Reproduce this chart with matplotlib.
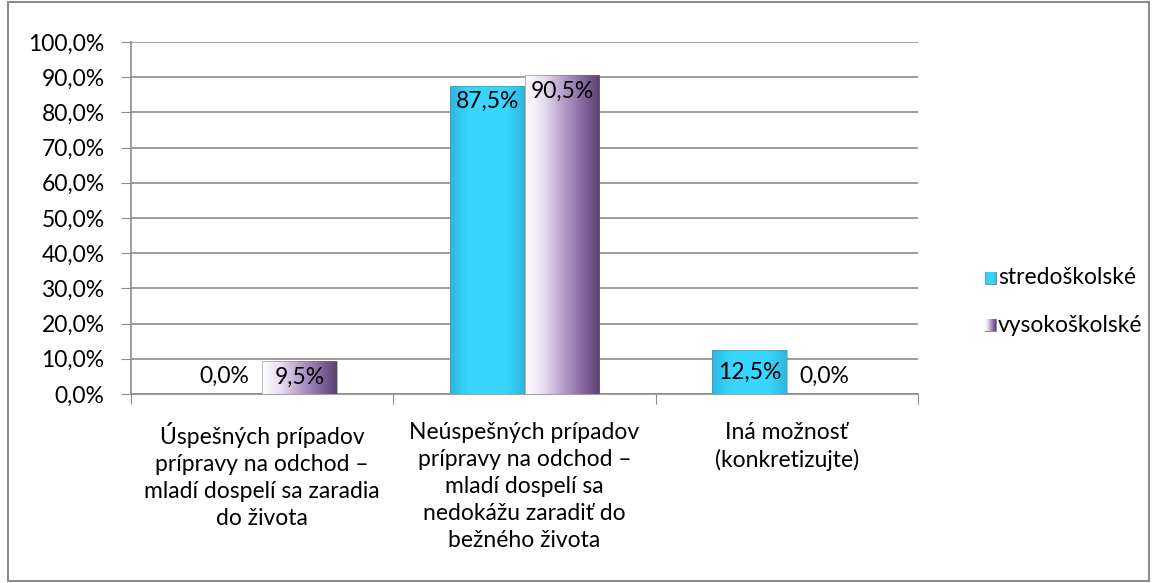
import matplotlib
matplotlib.use("Agg")
import matplotlib.pyplot as plt
import numpy as np
from matplotlib.colors import LinearSegmentedColormap
from matplotlib.patches import Rectangle

categories = ["Úspešných prípadov\nprípravy na odchod –\nmladí dospelí sa zaradia\ndo života",
              "Neúspešných prípadov\nprípravy na odchod –\nmladí dospelí sa\nnedokážu zaradiť do\nbežného života",
              "Iná možnosť\n(konkretizujte)"]
series_names = ["stredoškolské", "vysokoškolské"]
stredoskolske = [0.0, 87.5, 12.5]
vysokoskolske = [9.5, 90.5, 0.0]
yticks = list(range(0, 101, 10))

plt.rcParams['font.family'] = ['Lato', 'DejaVu Sans']
FS = 16.5

fig = plt.figure(figsize=(11.52, 5.83), dpi=100)
ax = fig.add_axes([131/1152, 1 - 394/583, (918-131)/1152, (394-42)/583])

cyan_cmap = LinearSegmentedColormap.from_list("c", ["#2AB8E0", "#38D6FF", "#38D6FF", "#38D6FF", "#2AB8E0"])
purp_cmap = LinearSegmentedColormap.from_list("p", ["#FFFFFF", "#E8DDF0", "#B8A0CC", "#8A6CA4", "#5A4070"])

x = np.arange(len(categories))
w = 0.285
grad = np.linspace(0, 1, 256).reshape(1, -1)
for vals, off, cmap, name in [(stredoskolske, -w/2, cyan_cmap, series_names[0]),
                              (vysokoskolske, w/2, purp_cmap, series_names[1])]:
    bars = ax.bar(x + off, vals, width=w, color="none", edgecolor="none", zorder=3, label=name)
    for b, v in zip(bars, vals):
        if v <= 0:
            continue
        x0, y0 = b.get_x(), b.get_y()
        im = ax.imshow(grad, cmap=cmap, aspect="auto", extent=(x0, x0 + w, y0, y0 + v), zorder=3)
        im.set_clip_path(b)
        ax.add_patch(Rectangle((x0, y0), w, v, fill=False, edgecolor="#777777", lw=0.6, zorder=4, alpha=0.6))

def lab(v):
    return f"{v:.1f}%".replace(".", ",")

for i in range(len(categories)):
    for v, off in [(stredoskolske[i], -w/2), (vysokoskolske[i], w/2)]:
        ax.text(x[i] + off, v / 2 if v > 5 and v < 20 else (v - 1.5 if v > 5 else 2.0), lab(v),
                ha="center", va="center" if 5 < v < 20 else ("top" if v > 5 else "bottom"),
                fontsize=FS, zorder=5)

ax.set_xlim(-0.5, 2.5)
ax.set_ylim(0, 100)
ax.set_yticks(yticks)
ax.set_yticklabels([lab(t) for t in yticks], fontsize=FS)
ax.yaxis.grid(True, color="#8C8C8C", lw=1.2, zorder=0)
ax.set_axisbelow(True)
ax.set_xticks([-0.5, 0.5, 1.5, 2.5], minor=False)
ax.set_xticklabels([])
ax.set_xticks(x, minor=True)
ax.set_xticklabels(categories, minor=True, fontsize=FS, linespacing=1.35)
ax.tick_params(axis="x", which="minor", length=0, pad=20)
ax.tick_params(axis="x", which="major", length=7, color="#8C8C8C")
ax.tick_params(axis="y", length=7, color="#8C8C8C", pad=12)
for sp in ["top", "right"]:
    ax.spines[sp].set_visible(False)
for sp in ["left", "bottom"]:
    ax.spines[sp].set_color("#8C8C8C")
    ax.spines[sp].set_linewidth(1.2)

# legend
lax = fig.add_axes([0, 0, 1, 1], facecolor="none")
lax.set_xlim(0, 1152)
lax.set_ylim(583, 0)
lax.axis("off")
for yy, cmap, name in [(278, cyan_cmap, series_names[0]), (325, purp_cmap, series_names[1])]:
    lax.imshow(grad, cmap=cmap, aspect="auto", extent=(985, 996, yy + 6, yy - 6), zorder=3)
    lax.add_patch(Rectangle((985, yy - 6), 11, 12, fill=False, edgecolor="#777777", lw=0.6))
    lax.text(998, yy, name, va="center", ha="left", fontsize=FS)
lax.add_patch(Rectangle((8, 2), 1141, 579, fill=False, edgecolor="#8C8C8C", lw=1.5))

fig.savefig("out.png", dpi=100)
